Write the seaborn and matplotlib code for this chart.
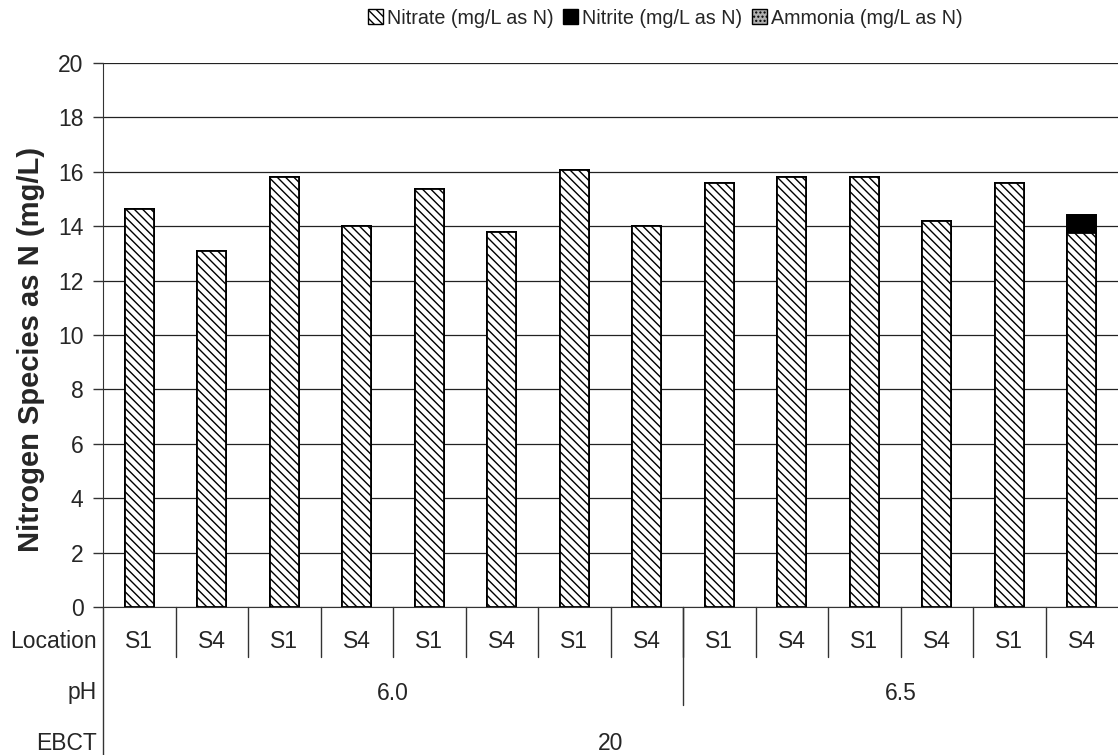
import matplotlib
matplotlib.use("Agg")
import matplotlib.pyplot as plt
import matplotlib.transforms as mtransforms
from matplotlib.patches import Patch
from matplotlib.lines import Line2D
import seaborn as sns
import pandas as pd

# ---- data ----
locations = ["S1", "S4", "S1", "S4", "S1", "S4", "S1", "S4",
             "S1", "S4", "S1", "S4", "S1", "S4"]
ph_groups = ["6.0", "6.5"]
ph_counts = [8, 6]
ebct_label = "20"
nitrate = [14.65, 13.1, 15.8, 14.0, 15.35, 13.78, 16.05, 14.0,
           15.58, 15.8, 15.8, 14.2, 15.58, 13.75]
nitrite = [0, 0, 0, 0, 0, 0, 0, 0, 0, 0, 0, 0, 0, 0.68]
ammonia = [0, 0, 0, 0, 0, 0, 0, 0, 0, 0, 0, 0, 0, 0]

sns.set_style("white")
plt.rcParams["font.family"] = ["Liberation Sans", "DejaVu Sans"]
plt.rcParams["hatch.linewidth"] = 1.0

FS = 16.5

idx = [f"c{i}" for i in range(len(locations))]
df = pd.DataFrame({"idx": idx, "nitrate": nitrate, "nitrite": nitrite, "ammonia": ammonia})
df["top_nitrite"] = df["nitrate"] + df["nitrite"]
df["top_all"] = df["top_nitrite"] + df["ammonia"]

fig = plt.figure(figsize=(11.18, 7.55), dpi=100)
ax = fig.add_axes([103 / 1118, 148 / 755, 1 - 103 / 1118, 544 / 755])

sns.barplot(data=df, x="idx", y="top_all", ax=ax, color="#b0b0b0", hatch="....",
            edgecolor="black", linewidth=1.3, width=0.4, zorder=3)
sns.barplot(data=df, x="idx", y="top_nitrite", ax=ax, color="black",
            edgecolor="black", linewidth=1.3, width=0.4, zorder=3)
sns.barplot(data=df, x="idx", y="nitrate", ax=ax, color="white", hatch=r"\\\\",
            edgecolor="black", linewidth=1.3, width=0.4, zorder=3)
for p in ax.patches:
    p.set_edgecolor("black")

ax.set_ylim(0, 20)
ax.set_xlim(-0.5, len(locations) - 0.5)
ax.set_yticks(range(0, 21, 2))
ax.yaxis.grid(True, color="#222222", linewidth=0.9)
ax.set_axisbelow(True)
ax.tick_params(axis="y", left=True, length=7, width=1, labelsize=FS, pad=7, color="#333333")
ax.set_xticks([])
ax.set_xlabel("")
ax.set_ylabel("Nitrogen Species as N (mg/L)", fontsize=21, fontweight="bold")
ax.yaxis.set_label_coords((45 - 103) / 1015, (607 - 349) / 544)
for s in ["top", "right"]:
    ax.spines[s].set_visible(False)
ax.spines["left"].set_color("#333333")
ax.spines["bottom"].set_color("#333333")

# ---- multi-level category axis ----
tr = mtransforms.blended_transform_factory(ax.transData, ax.transAxes)
n = len(locations)
def yax(px):
    return (607 - px) / 544

for i, loc in enumerate(locations):
    ax.text(i, yax(641), loc, transform=tr, ha="center", va="center", fontsize=FS)
for i in range(1, n):
    ax.add_line(Line2D([i - 0.5, i - 0.5], [0, yax(657)], transform=tr,
                       color="#333333", linewidth=1, clip_on=False))
start = 0
for g, c in zip(ph_groups, ph_counts):
    ax.text(start + (c - 1) / 2, yax(693), g, transform=tr, ha="center", va="center", fontsize=FS)
    start += c
    if start < n:
        ax.add_line(Line2D([start - 0.5, start - 0.5], [0, yax(705)], transform=tr,
                           color="#333333", linewidth=1, clip_on=False))
ax.text((n - 1) / 2, yax(743), ebct_label, transform=tr, ha="center", va="center", fontsize=FS)
ax.add_line(Line2D([-0.5, -0.5], [0, yax(760)], transform=tr,
                   color="#333333", linewidth=1, clip_on=False))

for lab, ypx in [("Location", 641), ("pH", 693), ("EBCT", 743)]:
    fig.text(97 / 1118, (755 - ypx) / 755, lab, ha="right", va="center", fontsize=FS)

# ---- legend ----
handles = [
    Patch(facecolor="white", edgecolor="black", hatch=r"\\\\", label="Nitrate (mg/L as N)"),
    Patch(facecolor="black", edgecolor="black", label="Nitrite (mg/L as N)"),
    Patch(facecolor="#b0b0b0", edgecolor="black", hatch="....", label="Ammonia (mg/L as N)"),
]
fig.legend(handles=handles, loc="center", bbox_to_anchor=(0.595, 1 - 18 / 755), ncol=3,
           frameon=False, fontsize=14.2, handlelength=0.75, handleheight=0.75,
           handletextpad=0.2, columnspacing=0.5)

fig.savefig("out.png", dpi=100)
